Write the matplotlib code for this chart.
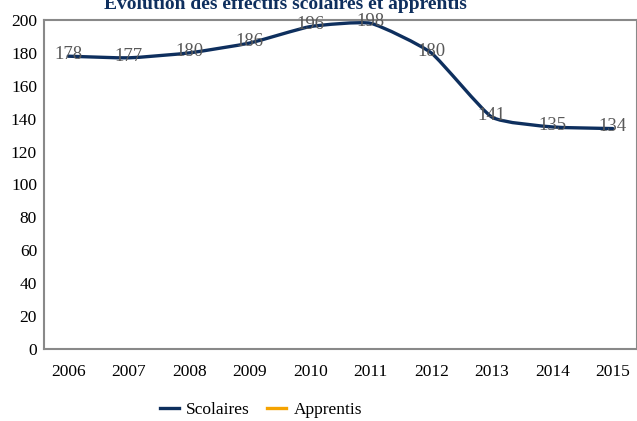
import numpy as np
import matplotlib
matplotlib.use("Agg")
import matplotlib.pyplot as plt
from matplotlib.path import Path
from matplotlib.patches import PathPatch
from matplotlib.lines import Line2D
from matplotlib.font_manager import FontProperties

plt.rcParams["font.family"] = ["Liberation Serif", "DejaVu Serif"]

years = ["2006", "2007", "2008", "2009", "2010", "2011", "2012", "2013", "2014", "2015"]
scolaires = [178, 177, 180, 186, 196, 198, 180, 141, 135, 134]
apprentis = []  # pas de valeurs affichées

NAVY = "#0E2F5E"
ORANGE = "#F5A300"
GRID = "#898989"
LABEL = "#595959"
TENSION = 0.08  # lissage léger


def smooth_path(x, y):
    # courbe légèrement lissée (Catmull-Rom -> Bézier)
    x = np.asarray(x, float)
    y = np.asarray(y, float)
    verts = [(x[0], y[0])]
    codes = [Path.MOVETO]
    n = len(x)
    for i in range(n - 1):
        p0 = (x[max(i - 1, 0)], y[max(i - 1, 0)])
        p1 = (x[i], y[i])
        p2 = (x[i + 1], y[i + 1])
        p3 = (x[min(i + 2, n - 1)], y[min(i + 2, n - 1)])
        c1 = (p1[0] + (p2[0] - p0[0]) * TENSION, p1[1] + (p2[1] - p0[1]) * TENSION)
        c2 = (p2[0] - (p3[0] - p1[0]) * TENSION, p2[1] - (p3[1] - p1[1]) * TENSION)
        verts += [c1, c2, p2]
        codes += [Path.CURVE4] * 3
    return Path(verts, codes)


fig = plt.figure(figsize=(6.37, 4.21), dpi=100)
ax = fig.add_axes([44 / 637, 1 - 349 / 421, 1 - 44 / 637, (349 - 20) / 421])

xs = np.arange(len(years))
ax.add_patch(PathPatch(smooth_path(xs, scolaires), facecolor="none",
                       edgecolor=NAVY, linewidth=2.4, capstyle="round"))

for x, v in zip(xs, scolaires):
    ax.text(x, v + 1, str(v), ha="center", va="center", fontsize=13.5, color=LABEL)

ax.set_xlim(-0.4, 9.4)
ax.set_ylim(0, 200)
ax.set_yticks(range(0, 201, 20))
ax.set_xticks(xs)
ax.set_xticklabels(years)
ax.tick_params(length=0, labelsize=12.5, colors="black", pad=5)
ax.tick_params(axis="x", pad=11)
for s in ["left", "bottom", "top", "right"]:
    ax.spines[s].set_color(GRID)
    ax.spines[s].set_linewidth(1.5)

# titre partiellement coupé en haut, comme dans l'original
fig.text(285 / 637, 1 - 9 / 421, "Evolution des effectifs scolaires et apprentis",
         ha="center", va="baseline", fontsize=14, fontweight="bold", color=NAVY)

handles = [Line2D([], [], color=NAVY, linewidth=2.4),
           Line2D([], [], color=ORANGE, linewidth=2.4)]
fig.legend(handles, ["Scolaires", "Apprentis"], loc="center",
           bbox_to_anchor=(261 / 637, 1 - 410 / 421), ncol=2, frameon=False,
           prop=FontProperties(family="Liberation Serif", size=12.5),
           handlelength=1.1, handletextpad=0.4, columnspacing=1.0)

fig.savefig("out.png", dpi=100)
